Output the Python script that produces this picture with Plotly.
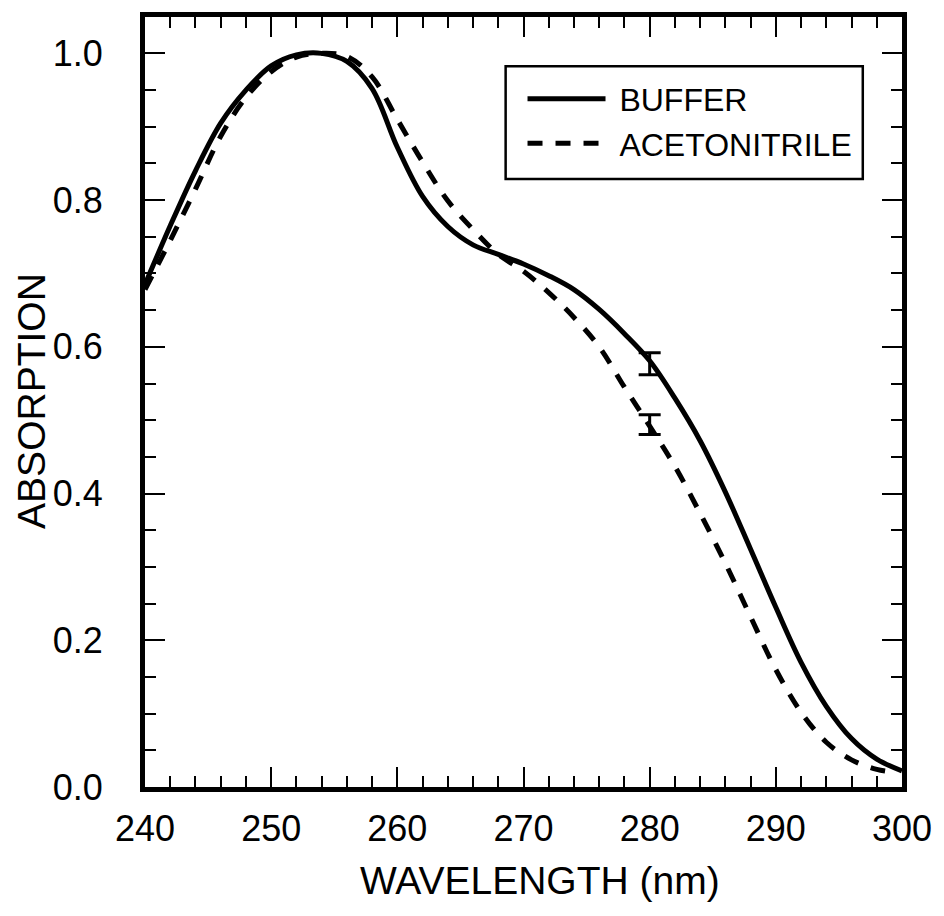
import plotly.graph_objects as go

wl_buffer = [240, 242, 244, 246, 248, 250, 252, 254, 256, 258, 260, 262, 264, 266, 268, 270,
             272, 274, 276, 278, 280, 282, 284, 286, 288, 290, 292, 294, 296, 298, 300]
abs_buffer = [0.685, 0.765, 0.84, 0.905, 0.95, 0.983, 0.998, 1.0, 0.989, 0.952, 0.872, 0.805, 0.764,
              0.739, 0.726, 0.713, 0.697, 0.678, 0.651, 0.618, 0.581, 0.53, 0.472, 0.402, 0.324,
              0.245, 0.17, 0.11, 0.066, 0.038, 0.022]

wl_acn = [240, 242, 244, 246, 248, 250, 252, 254, 256, 258, 260, 262, 264, 266, 268, 270,
          272, 274, 276, 278, 280, 282, 284, 286, 288, 290, 292, 294, 296, 298, 299.5]
abs_acn = [0.678, 0.745, 0.815, 0.887, 0.94, 0.975, 0.995, 1.0, 0.996, 0.968, 0.91, 0.852, 0.799,
           0.76, 0.726, 0.703, 0.674, 0.64, 0.60, 0.545, 0.492, 0.437, 0.373, 0.305, 0.232, 0.16,
           0.102, 0.061, 0.037, 0.024, 0.02]

err_x = [280]
err_buffer_y = [0.577]
err_buffer_e = [0.015]
err_acn_y = [0.494]
err_acn_e = [0.0135]

x_ticks = [240, 250, 260, 270, 280, 290, 300]
y_ticks = [0, 0.2, 0.4, 0.6, 0.8, 1.0]
y_ticktext = ["0.0", "0.2", "0.4", "0.6", "0.8", "1.0"]

FONT = "Arial, Liberation Sans, sans-serif"

fig = go.Figure()
fig.add_trace(go.Scatter(x=wl_buffer, y=abs_buffer, mode="lines", name="\u00a0BUFFER",
                         line=dict(color="black", width=5, shape="spline", smoothing=1.0)))
fig.add_trace(go.Scatter(x=wl_acn, y=abs_acn, mode="lines", name="\u00a0ACETONITRILE",
                         line=dict(color="black", width=5, dash="15px,13px", shape="spline",
                                   smoothing=1.0)))
fig.add_trace(go.Scatter(x=err_x, y=err_buffer_y, mode="markers", showlegend=False,
                         marker=dict(size=1, color="black"),
                         error_y=dict(type="data", array=err_buffer_e, color="black",
                                      thickness=3, width=11)))
fig.add_trace(go.Scatter(x=err_x, y=err_acn_y, mode="markers", showlegend=False,
                         marker=dict(size=1, color="black"),
                         error_y=dict(type="data", array=err_acn_e, color="black",
                                      thickness=3, width=11)))

axis_common = dict(showline=True, linecolor="black", linewidth=5, mirror="allticks",
                   ticks="inside", ticklen=20, tickwidth=2, tickcolor="black",
                   showgrid=False, zeroline=False,
                   tickfont=dict(family=FONT, size=36, color="black"))

fig.update_xaxes(range=[240, 300], tickmode="array", tickvals=x_ticks,
                 ticktext=[str(v) for v in x_ticks],
                 minor=dict(dtick=2, ticks="inside", ticklen=11, tickwidth=2, tickcolor="black"),
                 ticklabelstandoff=6, **axis_common)
fig.update_yaxes(range=[0, 1.0496], tickmode="array", tickvals=y_ticks, ticktext=y_ticktext,
                 minor=dict(dtick=0.05, ticks="inside", ticklen=11, tickwidth=2, tickcolor="black"),
                 ticklabelstandoff=30, **axis_common)

fig.update_layout(
    width=944, height=916,
    margin=dict(l=144.5, r=36.5, t=15.5, b=128.5),
    plot_bgcolor="white", paper_bgcolor="white",
    legend=dict(x=0.4987, y=0.9294, xanchor="left", yanchor="top",
                bgcolor="rgba(0,0,0,0)", borderwidth=0,
                font=dict(family=FONT, size=32, color="black"),
                itemwidth=78, tracegroupgap=0),
    shapes=[dict(type="rect", xref="paper", yref="paper",
                 x0=0.4764, x1=0.9482, y0=0.7895, y1=0.9359,
                 line=dict(color="black", width=2.5), fillcolor="rgba(0,0,0,0)", layer="above")],
    annotations=[
        dict(text="WAVELENGTH (nm)", xref="paper", yref="paper", x=0.5223, y=-0.1211,
             xanchor="center", yanchor="middle", showarrow=False,
             font=dict(family=FONT, size=39, color="black")),
        dict(text="ABSORPTION", xref="paper", yref="paper", x=-0.150, y=0.502,
             xanchor="center", yanchor="middle", showarrow=False, textangle=-90,
             font=dict(family=FONT, size=39, color="black")),
    ],
)

fig.write_html("out.html")
